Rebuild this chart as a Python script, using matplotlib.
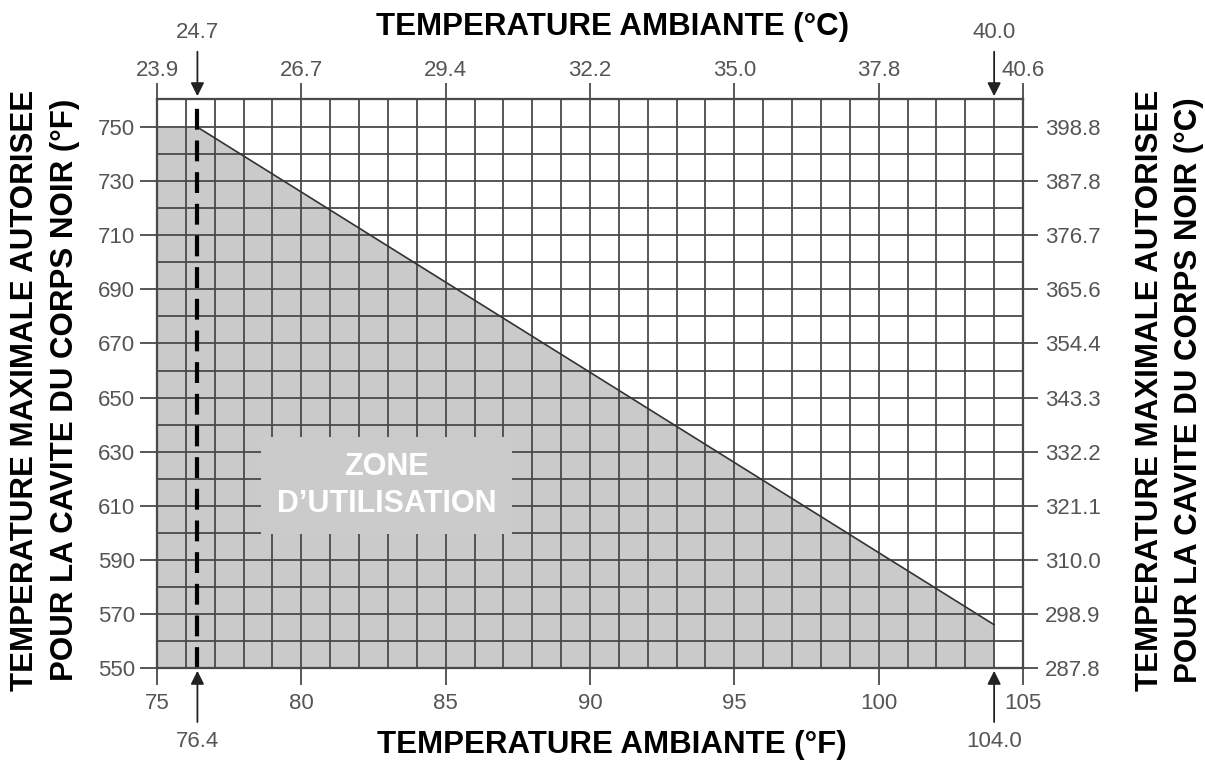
import matplotlib.pyplot as plt

# ambient temperature axis (deg F at the bottom, deg C on top)
x_ticks_f = [75, 80, 85, 90, 95, 100, 105]
x_labels_c = ["23.9", "26.7", "29.4", "32.2", "35.0", "37.8", "40.6"]

# blackbody cavity temperature (deg F on the left, deg C on the right)
y_ticks_f = [550, 570, 590, 610, 630, 650, 670, 690, 710, 730, 750]
y_labels_c = ["287.8", "298.9", "310.0", "321.1", "332.2", "343.3",
              "354.4", "365.6", "376.7", "387.8", "398.8"]

# boundary of the operating zone
zone_x = [75, 76.4, 104]
zone_y = [750, 750, 566]

# marked limits
limit_f = [76.4, 104.0]
limit_c = ["24.7", "40.0"]

x_min, x_max = 75, 105
y_min, y_max = 550, 760.4

tick_color = "#555555"
grid_color = "#4a4a4a"
tick_fs = 16
title_fs = 22.5
plt.rcParams["font.family"] = ["Liberation Sans", "DejaVu Sans"]

fig = plt.figure(figsize=(12.05, 7.63), dpi=100)
ax = fig.add_axes([157 / 1205, 1 - 668 / 763, (1023 - 157) / 1205, (668 - 99) / 763])

# shaded zone
poly_x = [zone_x[0]] + zone_x + [zone_x[-1]]
poly_y = [y_min] + zone_y + [y_min]
ax.fill(poly_x, poly_y, color="#cacaca", lw=0, zorder=1)
ax.plot(zone_x[1:], zone_y[1:], color="#333333", lw=1.2, zorder=3)

# grid: 1 F vertical, 10 F horizontal
for xv in range(x_min + 1, x_max):
    ax.axvline(xv, color=grid_color, lw=1.3, zorder=2)
for yv in range(y_min + 10, 760, 10):
    ax.axhline(yv, color=grid_color, lw=1.3, zorder=2)

# dashed lower limit
ax.plot([limit_f[0], limit_f[0]], [y_min, y_max], color="black", lw=3,
        ls=(0, (5, 2.6)), zorder=4)

ax.set_xlim(x_min, x_max)
ax.set_ylim(y_min, y_max)
for s in ax.spines.values():
    s.set_color(grid_color)
    s.set_linewidth(1.5)

ax.set_xticks(x_ticks_f)
ax.set_xticklabels([str(v) for v in x_ticks_f])
ax.set_yticks(y_ticks_f)
ax.set_yticklabels([str(v) for v in y_ticks_f])
ax.tick_params(axis="x", length=12, width=1.3, color=grid_color, labelsize=tick_fs,
               labelcolor=tick_color, pad=6)
ax.tick_params(axis="y", length=12, width=1.3, color=grid_color, labelsize=tick_fs,
               labelcolor=tick_color, pad=3.6)

# top axis in deg C
axt = ax.twiny()
axt.set_xlim(x_min, x_max)
axt.set_xticks(x_ticks_f)
axt.set_xticklabels(x_labels_c)
axt.tick_params(axis="x", length=11.5, width=1.3, color=grid_color, labelsize=tick_fs,
                labelcolor=tick_color, pad=1.5)

# right axis in deg C
axr = ax.twinx()
axr.set_ylim(y_min, y_max)
axr.set_yticks(y_ticks_f)
axr.set_yticklabels(y_labels_c)
axr.tick_params(axis="y", length=11, width=1.3, color=grid_color, labelsize=tick_fs,
                labelcolor=tick_color, pad=5)
for a in (axt, axr):
    for s in a.spines.values():
        s.set_color(grid_color)
        s.set_linewidth(1.5)

# limit arrows
arrow = dict(arrowstyle="-|>", color="#222222", lw=1.3, mutation_scale=20)
for xf, xc in zip(limit_f, limit_c):
    ax.annotate("", xy=(xf, y_min), xytext=(xf, y_min - 21),
                arrowprops=arrow, annotation_clip=False)
    ax.text(xf, y_min - 27, f"{xf:.1f}", ha="center", va="center",
            fontsize=tick_fs, color=tick_color)
    ax.annotate("", xy=(xf, y_max), xytext=(xf, y_max + 18.5),
                arrowprops=arrow, annotation_clip=False)
    ax.text(xf, y_max + 24.5, xc, ha="center", va="center",
            fontsize=tick_fs, color=tick_color)

# zone label
ax.text(82.95, 617.5, "ZONE\nD\u2019UTILISATION", ha="center", va="center",
        fontsize=22, fontweight="bold", color="white", linespacing=1.3,
        zorder=6,
        bbox=dict(boxstyle="square,pad=0.5", fc="#cbcbcb", ec="none"))

# axis titles
fig.text(612 / 1205, 1 - 27 / 763, "TEMPERATURE AMBIANTE (\u00b0C)", ha="center",
         va="center", fontsize=title_fs, fontweight="bold")
fig.text(612 / 1205, 1 - 745 / 763, "TEMPERATURE AMBIANTE (\u00b0F)", ha="center",
         va="center", fontsize=title_fs, fontweight="bold")
for xp, txt in [(25, "TEMPERATURE MAXIMALE AUTORISEE"),
                (65, "POUR LA CAVITE DU CORPS NOIR (\u00b0F)"),
                (1150, "TEMPERATURE MAXIMALE AUTORISEE"),
                (1189, "POUR LA CAVITE DU CORPS NOIR (\u00b0C)")]:
    fig.text(xp / 1205, 1 - 390 / 763, txt, rotation=90, ha="center",
             va="center", fontsize=title_fs, fontweight="bold")

fig.savefig("out.png", dpi=100)
